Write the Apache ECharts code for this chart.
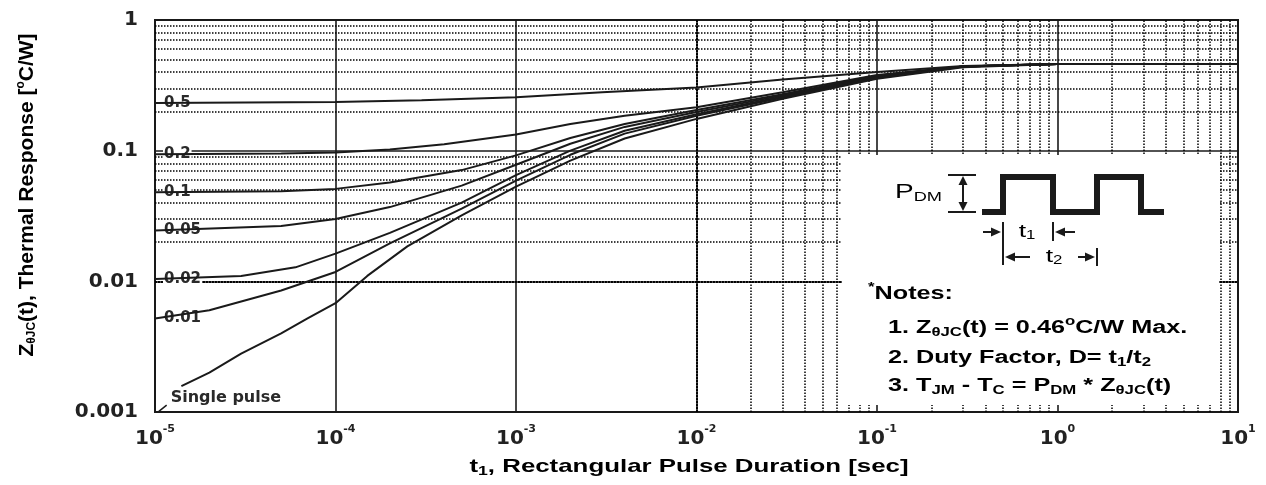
<!DOCTYPE html>
<html><head><meta charset="utf-8">
<script src="https://cdn.jsdelivr.net/npm/echarts@6/dist/echarts.min.js"></script>
<style>html,body{margin:0;padding:0;background:#fff}#c{width:1266px;height:485px}</style>
</head><body><div id="c"></div>
<script>
// ---- data ----
const xTickExps = [-5, -4, -3, -2, -1, 0, 1];
const yTickLabels = ['0.001', '0.01', '0.1', '1'];
const dutyLabels = ['0.5', '0.2', '0.1', '0.05', '0.02', '0.01'];
const d05 = [[1e-5,0.232],[1e-4,0.236],[3e-4,0.243],[1e-3,0.256],[3e-3,0.28],[1e-2,0.305],[3e-2,0.35],[1e-1,0.40],[3e-1,0.445],[1,0.46],[10,0.46]];
const d02 = [[1e-5,0.094],[5e-5,0.095],[1e-4,0.097],[2e-4,0.102],[4e-4,0.112],[1e-3,0.133],[2e-3,0.16],[4e-3,0.185],[1e-2,0.215],[3e-2,0.28],[1e-1,0.38],[3e-1,0.44],[1,0.46],[10,0.46]];
const d01 = [[1e-5,0.048],[5e-5,0.049],[1e-4,0.051],[2e-4,0.057],[5e-4,0.071],[1e-3,0.092],[2e-3,0.125],[4e-3,0.16],[1e-2,0.205],[3e-2,0.27],[1e-1,0.375],[3e-1,0.44],[1,0.46],[10,0.46]];
const d005 = [[1e-5,0.0245],[5e-5,0.0265],[1e-4,0.03],[2e-4,0.037],[5e-4,0.054],[1e-3,0.078],[2e-3,0.113],[4e-3,0.152],[1e-2,0.198],[3e-2,0.265],[1e-1,0.37],[3e-1,0.44],[1,0.46],[10,0.46]];
const d002 = [[1e-5,0.0104],[3e-5,0.011],[6e-5,0.0128],[1e-4,0.0163],[2e-4,0.0235],[5e-4,0.04],[1e-3,0.065],[2e-3,0.1],[4e-3,0.142],[1e-2,0.19],[3e-2,0.26],[1e-1,0.365],[3e-1,0.44],[1,0.46],[10,0.46]];
const d001 = [[1e-5,0.0052],[2e-5,0.006],[5e-5,0.0085],[1e-4,0.0118],[2e-4,0.0195],[5e-4,0.036],[1e-3,0.059],[2e-3,0.093],[4e-3,0.135],[1e-2,0.185],[3e-2,0.255],[1e-1,0.36],[3e-1,0.44],[1,0.46],[10,0.46]];
const single = [[1.4e-5,0.00158],[2e-5,0.002],[3e-5,0.0028],[5e-5,0.004],[7e-5,0.0052],[1e-4,0.0068],[1.5e-4,0.011],[2.5e-4,0.0185],[5e-4,0.032],[1e-3,0.053],[2e-3,0.084],[4e-3,0.124],[1e-2,0.175],[3e-2,0.25],[1e-1,0.355],[3e-1,0.435],[1,0.46],[10,0.46]];
const singleLeader = [[1.05e-5,0.00101],[1.16e-5,0.00113]];
const singleLabel = 'Single pulse';

// ---- styling ----
const NUM = 'DejaVu Sans';
const TXT = 'Liberation Sans';
const INK = '#1a1a1a';
const SX = 1.4; // horizontal stretch of the reference lettering

const minorX = [];
for (let e = -5; e < 1; e++) for (let m = 2; m <= 9; m++) minorX.push(m * Math.pow(10, e));
const minorY = [];
for (let e = -3; e < 0; e++) for (let m = 2; m <= 9; m++) minorY.push(m * Math.pow(10, e));

const chart = echarts.init(document.getElementById('c'));

function curve(name, data, label) {
  return {
    name, type: 'line', data, symbol: 'none', smooth: false,
    lineStyle: { color: INK, width: 2 }, z: 5, silent: true, animation: false,
    markPoint: label ? {
      symbol: 'circle', symbolSize: 0, silent: true, animation: false,
      data: [{ coord: data[0], value: label }],
      label: { show: true, position: 'right', distance: 8, formatter: label,
        fontFamily: NUM, fontWeight: 'bold', fontSize: 15, color: '#2a2a2a',
        backgroundColor: '#fff', padding: [0, 1, 0, 1] }
    } : undefined
  };
}

const rn = (sz, w) => ({ fontFamily: TXT, fontWeight: w || 'bold', fontSize: sz, color: '#222' });
const subSt = (sz, pad, w) => ({ fontFamily: TXT, fontWeight: w || 'bold', fontSize: sz, color: '#222', padding: [pad, 0, 0, 0] });
const supSt = (sz, pad, w) => ({ fontFamily: TXT, fontWeight: w || 'bold', fontSize: sz, color: '#222', padding: [0, 0, pad, 0] });

function ln(x1, y1, x2, y2, w) {
  return { type: 'line', z: 101, shape: { x1, y1, x2, y2 }, style: { stroke: INK, lineWidth: w || 2 } };
}
function tri(pts) {
  return { type: 'polygon', z: 101, shape: { points: pts }, style: { fill: INK } };
}
function rtext(x, y, text, rich, align, extra) {
  return Object.assign({ type: 'text', z: 102, x, y, scaleX: SX, style: { text, rich, align: align || 'left', verticalAlign: 'middle' } }, extra || {});
}

const noteRich = { a: rn(18), s: subSt(12, 9), p: supSt(12, 13) };

const option = {
  backgroundColor: '#fff',
  animation: false,
  grid: { left: 155, right: 28, top: 20, bottom: 73, show: true, borderColor: INK, borderWidth: 2, backgroundColor: '#fff' },
  xAxis: {
    type: 'log', logBase: 10, min: 1e-5, max: 10,
    axisLine: { show: false }, axisTick: { show: false },
    splitLine: { show: true, lineStyle: { color: INK, width: 1.6 } },
    axisLabel: {
      margin: 12,
      formatter: (v) => { const e = Math.round(Math.log10(v)); return xTickExps.indexOf(e) >= 0 ? '{b|10}{s|' + e + '}' : ''; },
      rich: {
        b: { fontFamily: NUM, fontWeight: 'bold', fontSize: 20, color: '#222' },
        s: { fontFamily: NUM, fontWeight: 'bold', fontSize: 11, color: '#222', padding: [0, 0, 18, 0] }
      }
    }
  },
  yAxis: {
    type: 'log', logBase: 10, min: 0.001, max: 1,
    axisLine: { show: false }, axisTick: { show: false },
    splitLine: { show: true, lineStyle: { color: INK, width: 1.6 } },
    axisLabel: {
      margin: 17, fontFamily: NUM, fontWeight: 'bold', fontSize: 20, color: '#222',
      formatter: (v) => yTickLabels[Math.round(Math.log10(v)) + 3] || ''
    }
  },
  series: [
    {
      type: 'line', data: [], silent: true, z: 1,
      markLine: {
        symbol: ['none', 'none'], silent: true, animation: false, label: { show: false },
        lineStyle: { type: [1.5, 1.5], color: '#000', width: 1.5 },
        emphasis: { disabled: true },
        data: minorX.map(v => ({ xAxis: v })).concat(minorY.map(v => ({ yAxis: v })))
      }
    },
    curve('0.5', d05, dutyLabels[0]),
    curve('0.2', d02, dutyLabels[1]),
    curve('0.1', d01, dutyLabels[2]),
    curve('0.05', d005, dutyLabels[3]),
    curve('0.02', d002, dutyLabels[4]),
    curve('0.01', d001, dutyLabels[5]),
    curve('Single pulse', single, null),
    {
      type: 'line', data: singleLeader, symbol: 'none', silent: true, z: 5,
      lineStyle: { color: INK, width: 1.5 },
      markPoint: {
        symbol: 'circle', symbolSize: 0, silent: true,
        data: [{ coord: singleLeader[1], value: singleLabel }],
        label: { show: true, position: 'right', distance: 4, offset: [0, -7], formatter: singleLabel,
          fontFamily: NUM, fontWeight: 'bold', fontSize: 16, color: '#2a2a2a', backgroundColor: '#fff' }
      }
    }
  ],
  graphic: {
    elements: [
      // axis titles
      { type: 'text', z: 102, x: 27, y: 195, rotation: Math.PI / 2,
        style: { text: '{a|Z}{s|θJC}{a|(t), Thermal Response [}{p|o}{a|C/W]}', rich: { a: rn(21), s: subSt(12, 10), p: supSt(12, 13) }, align: 'center', verticalAlign: 'middle' } },
      { type: 'text', z: 102, x: 689, y: 467, scaleX: 1.36,
        style: { text: '{a|t}{s|1}{a|, Rectangular Pulse Duration [sec]}', rich: { a: rn(19), s: subSt(13, 9) }, align: 'center', verticalAlign: 'middle' } },
      // inset
      { type: 'rect', z: 100, shape: { x: 842, y: 155, width: 377, height: 250 }, style: { fill: '#fff' } },
      rtext(895, 192, '{a|P}{s|DM}', { a: rn(20, 'normal'), s: subSt(13, 10, 'normal') }),
      ln(948, 175, 976, 175, 2), ln(948, 212, 976, 212, 2), ln(963, 181, 963, 206, 2),
      tri([[963, 176], [958.5, 185], [967.5, 185]]), tri([[963, 211], [958.5, 202], [967.5, 202]]),
      { type: 'polyline', z: 101, shape: { points: [[982, 212], [1003, 212], [1003, 177], [1053, 177], [1053, 212], [1097, 212], [1097, 177], [1141, 177], [1141, 212], [1164, 212]] },
        style: { stroke: INK, lineWidth: 6, fill: null, lineJoin: 'miter' } },
      ln(983, 232, 992, 232, 2), tri([[1001, 232], [991, 227.5], [991, 236.5]]), ln(1003, 222, 1003, 265, 2),
      ln(1053, 222, 1053, 241, 2), tri([[1055, 232], [1065, 227.5], [1065, 236.5]]), ln(1064, 232, 1075, 232, 2),
      rtext(1027, 232, '{a|t}{s|1}', { a: rn(19, 'normal'), s: subSt(12, 8, 'normal') }, 'center'),
      tri([[1005, 257], [1015, 252.5], [1015, 261.5]]), ln(1014, 257, 1030, 257, 2),
      ln(1078, 257, 1087, 257, 2), tri([[1095, 257], [1085, 252.5], [1085, 261.5]]), ln(1097, 248, 1097, 266, 2),
      rtext(1054, 257, '{a|t}{s|2}', { a: rn(19, 'normal'), s: subSt(12, 8, 'normal') }, 'center'),
      rtext(868, 294, '{p|*}{a|Notes:}', noteRich),
      rtext(888, 328, '{a|1. Z}{s|θJC}{a|(t) = 0.46}{p|o}{a|C/W Max.}', noteRich),
      rtext(888, 358, '{a|2. Duty Factor, D= t}{s|1}{a|/t}{s|2}', noteRich),
      rtext(888, 386, '{a|3. T}{s|JM}{a| - T}{s|C}{a| = P}{s|DM}{a| * Z}{s|θJC}{a|(t)}', noteRich)
    ]
  }
};
chart.setOption(option);
</script>
</body></html>
